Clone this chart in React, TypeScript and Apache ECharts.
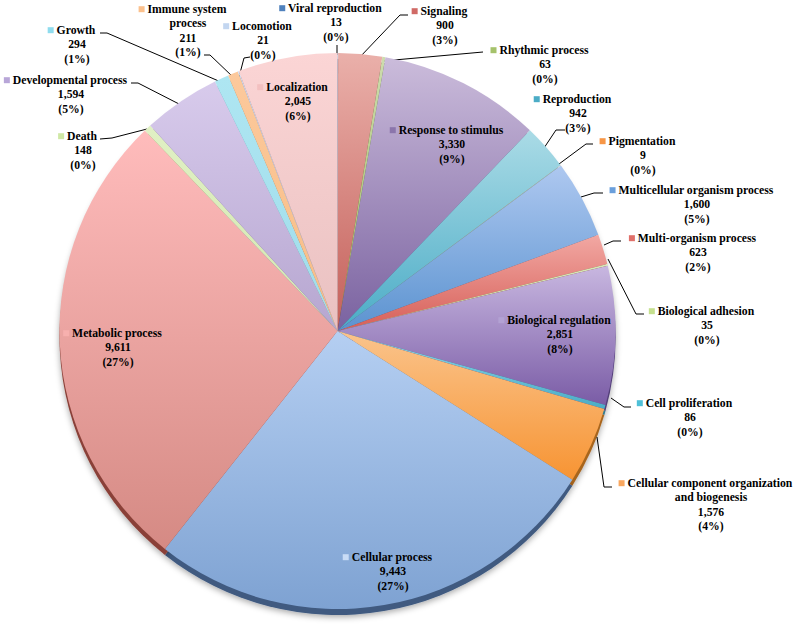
import React, { useEffect, useRef } from "react";
import * as echarts from "echarts";

const categories = [
  "Viral reproduction", "Signaling", "Rhythmic process", "Response to stimulus", "Reproduction",
  "Pigmentation", "Multicellular organism process", "Multi-organism process", "Biological adhesion",
  "Biological regulation", "Cell proliferation", "Cellular component organization\nand biogenesis",
  "Cellular process", "Metabolic process", "Death", "Developmental process", "Growth",
  "Immune system\nprocess", "Locomotion", "Localization",
];
const values = [13, 900, 63, 3330, 942, 9, 1600, 623, 35, 2851, 86, 1576, 9443, 9611, 148, 1594, 294, 211, 21, 2045];
const percents = [0, 3, 0, 9, 3, 0, 5, 2, 0, 8, 0, 4, 27, 27, 0, 5, 1, 1, 0, 6];

const colorTop = ["#7ea6d4", "#eab0aa", "#cddcae", "#cbbcdb", "#aadbe6", "#f9c79a", "#aec8f0", "#f2a8a3", "#d8e8b8", "#c8b7e0", "#8fd8e8", "#fac48c", "#b5cff2", "#ffbcbc", "#e0f0c4", "#d8cbec", "#aee6f2", "#fcc99c", "#cfdff5", "#fbd5d5"];
const colorBottom = ["#4f81bd", "#c4605a", "#9bbb59", "#7a62a0", "#4bacc6", "#f79646", "#5b93d0", "#d65f58", "#c5dc98", "#7a5ca6", "#4bacc6", "#f79433", "#7ea2d2", "#d58a84", "#d4e8b0", "#b6a6d0", "#a0dcea", "#f8bd85", "#bcd0ea", "#e9c1c1"];
const rimColors = ["#3a5a80", "#8a3f3a", "#6f8740", "#5c4778", "#357f92", "#b36a2c", "#3f5f8a", "#8f3f3a", "#8aa060", "#54407a", "#357f92", "#a8651f", "#3f5a80", "#8a4038", "#9ab070", "#7a6a98", "#6aa8b8", "#b58050", "#7f90aa", "#a07e7e"];
const keyColors = ["#4f81bd", "#d06a66", "#a5c26b", "#8b75ab", "#4bacc6", "#f79646", "#6a9fdc", "#e0706a", "#c5e08e", "#b3a2d3", "#4fc0d8", "#f9a75f", "#c9dcf6", "#f7b0ae", "#cfe8a5", "#b8a6d8", "#8fdcee", "#fbc08c", "#c3d6f0", "#f3c0c0"];

// [centre x of the text, top y of the text block]
const labelPositions: number[][] = [
  [336, 1], [445, 4], [545, 43], [578, 92], [643, 134], [697, 183], [698, 231], [707, 304], [690, 396], [711, 476],
  [393, 550], [118, 326], [83, 129], [71, 73], [77, 23], [188, 2], [263, 19], [298, 80],
];
const labelIndexOrder = [0, 1, 2, 4, 5, 6, 7, 8, 10, 11, 12, 13, 14, 15, 16, 17, 18, 19];
const innerLabels: Record<number, number[]> = { 3: [452, 123], 9: [560, 313] };
const guideLines: Record<number, number[][]> = {
  0: [[337, 55], [337, 45]],
  1: [[359, 58], [400, 15], [408, 15]],
  2: [[383, 61], [483, 52]],
  4: [[544, 148], [556, 130], [565, 130]],
  5: [[559, 164], [586, 144], [593, 144]],
  6: [[581, 197], [594, 193], [603, 193]],
  7: [[604, 245], [613, 241], [621, 241]],
  8: [[608, 259], [636, 314], [644, 314]],
  10: [[611, 398], [624, 407], [631, 407]],
  11: [[597, 437], [604, 487], [612, 487]],
  14: [[147, 129], [112, 138], [100, 139]],
  15: [[181, 105], [138, 83], [131, 83]],
  16: [[221, 82], [107, 33], [100, 33]],
  17: [[233, 77], [210, 55], [204, 55]],
  18: [[239, 77], [244, 58], [250, 57]],
};
const noGuide = [3, 9, 12, 13, 19];

const fmt = (v: number) => v.toLocaleString("en-US");

function positionOf(i: number): number[] {
  if (innerLabels[i]) return innerLabels[i];
  return labelPositions[labelIndexOrder.indexOf(i)];
}

export default function App() {
  const ref = useRef<HTMLDivElement>(null);
  useEffect(() => {
    const chart = echarts.init(ref.current!, null, { renderer: "svg" });
    const rich: Record<string, any> = {
      b: { fontFamily: "Liberation Serif", fontWeight: "bold", fontSize: 11.7, lineHeight: 14.4, color: "#000" },
      s: { width: 11, height: 6 },
    };
    keyColors.forEach((c, i) => {
      rich["k" + i] = { width: 6, height: 6, backgroundColor: c, padding: 0 };
    });
    const grad = (a: string, b: string) =>
      new echarts.graphic.LinearGradient(0, 0, 0, 1, [
        { offset: 0, color: a },
        { offset: 1, color: b },
      ]);
    const option = {
      animation: false,
      backgroundColor: "#ffffff",
      series: [
        {
          type: "pie",
          silent: true,
          z: 1,
          center: [337.5, 337],
          radius: [0, 278],
          startAngle: 90,
          clockwise: true,
          label: { show: false },
          labelLine: { show: false },
          itemStyle: { shadowBlur: 6, shadowColor: "rgba(0,0,0,0.35)", shadowOffsetY: 2 },
          data: values.map((v, i) => ({
            value: v,
            name: categories[i],
            itemStyle: { color: rimColors[i] },
          })),
        },
        {
          type: "pie",
          z: 2,
          center: [337.5, 331],
          radius: [0, 278],
          startAngle: 90,
          clockwise: true,
          avoidLabelOverlap: false,
          minShowLabelAngle: 0,
          label: {
            show: true,
            position: "outside",
            fontFamily: "Liberation Serif",
            fontWeight: "bold",
            fontSize: 11.7,
            lineHeight: 14.4,
            color: "#000",
            rich,
            formatter: (p: any) => {
              const i = p.dataIndex;
              const lines = categories[i].split("\n");
              const first = `{k${i}|}{b| ${lines[0]}}{s|}`;
              const rest = lines.slice(1).map((l) => `{b|${l}}`);
              return [first, ...rest, `{b|${fmt(values[i])}}`, `{b|(${percents[i]}%)}`].join("\n");
            },
          },
          labelLine: { show: true, lineStyle: { color: "#000", width: 1 } },
          labelLayout: (p: any) => {
            const i = p.dataIndex;
            const [x, y] = positionOf(i);
            const out: any = { x, y, align: "center", verticalAlign: "top", hideOverlap: false };
            if (guideLines[i]) out.labelLinePoints = guideLines[i];
            return out;
          },
          data: values.map((v, i) => ({
            value: v,
            name: categories[i],
            itemStyle: { color: grad(colorTop[i], colorBottom[i]) },
            labelLine: { show: !noGuide.includes(i) },
          })),
        },
      ],
    };
    chart.setOption(option as any);
    return () => chart.dispose();
  }, []);
  return <div ref={ref} style={{ position: "absolute", left: 0, top: 0, width: 797, height: 627 }} />;
}
